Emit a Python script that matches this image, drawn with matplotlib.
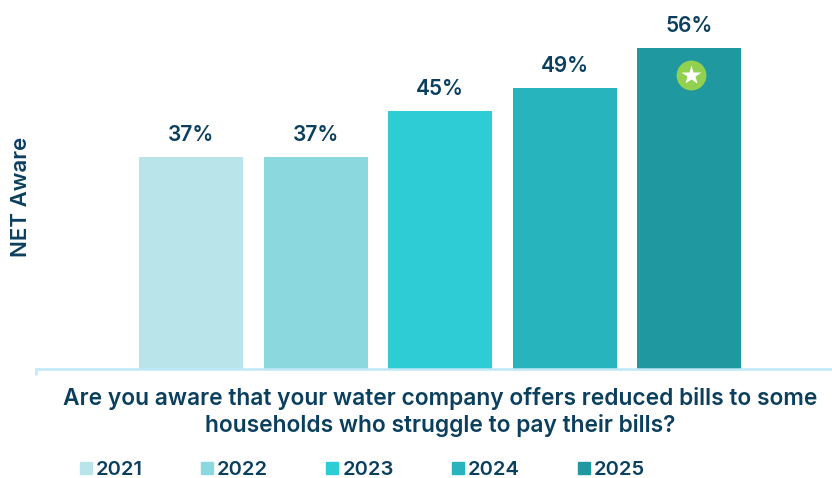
import matplotlib
matplotlib.use('Agg')
import matplotlib.pyplot as plt
from matplotlib.patches import Patch

plt.rcParams['font.family'] = ['Inter', 'Open Sans', 'DejaVu Sans']

years = ['2021', '2022', '2023', '2024', '2025']
net_aware = [37, 37, 45, 49, 56]
colors = ['#B9E5EA', '#8BD9DE', '#2ECDD5', '#28B4BC', '#1F98A0']
question = ('Are you aware that your water company offers reduced bills to some\n'
            'households who struggle to pay their bills?')

navy = '#0B3F5E'
W, H = 832, 478

fig = plt.figure(figsize=(W / 100, H / 100), dpi=100)
ax = fig.add_axes([36 / W, 1 - 369 / H, (832 - 36) / W, (369 - 30) / H])

x = list(range(len(years)))
bars = ax.bar(x, net_aware, width=0.835, color=colors, zorder=2)
ax.set_xlim(-1.247, 5.147)
ax.set_ylim(0, 339 / 5.73)

for rect, v in zip(bars, net_aware):
    ax.annotate(f'{v}%', (rect.get_x() + rect.get_width() / 2, v), xytext=(0, 16),
                textcoords='offset points', ha='center', va='center',
                fontsize=15, fontweight=600, color=navy, annotation_clip=False)

# badge on the latest bar
ax.plot([x[-1] + 0.015], [net_aware[-1] - 4.7], 'o', ms=21.5, color='#92D050', mec='none', zorder=3)
ax.plot([x[-1] + 0.015], [net_aware[-1] - 4.7], '*', ms=15, color='white', mec='none', zorder=4)

for s in ['top', 'right', 'left']:
    ax.spines[s].set_visible(False)
ax.spines['bottom'].set_color('#BFE8F8')
ax.spines['bottom'].set_linewidth(1.8)
ax.set_yticks([])
ax.set_xticks([-1.247])
ax.set_xticklabels([''])
ax.tick_params(axis='x', length=4.5, width=1.8, color='#BFE8F8')

fig.text(21 / W, 1 - 197 / H, 'NET Aware', rotation=90, ha='center', va='center',
         fontsize=16, fontweight=600, color=navy)
fig.text(440 / W, 1 - 412 / H, question, ha='center', va='center', fontsize=16.4,
         fontweight=600, color=navy, linespacing=1.22)

handles = [Patch(color=c, label=y) for c, y in zip(colors, years)]
fig.legend(handles=handles, loc='center left', bbox_to_anchor=(80 / W, 1 - 470 / H), ncol=5,
           frameon=False, handlelength=0.6, handleheight=0.6, handletextpad=0.2,
           columnspacing=2.88, borderpad=0, borderaxespad=0,
           prop={'size': 14.5, 'weight': 600}, labelcolor=navy)

fig.savefig('out.png', dpi=100)
